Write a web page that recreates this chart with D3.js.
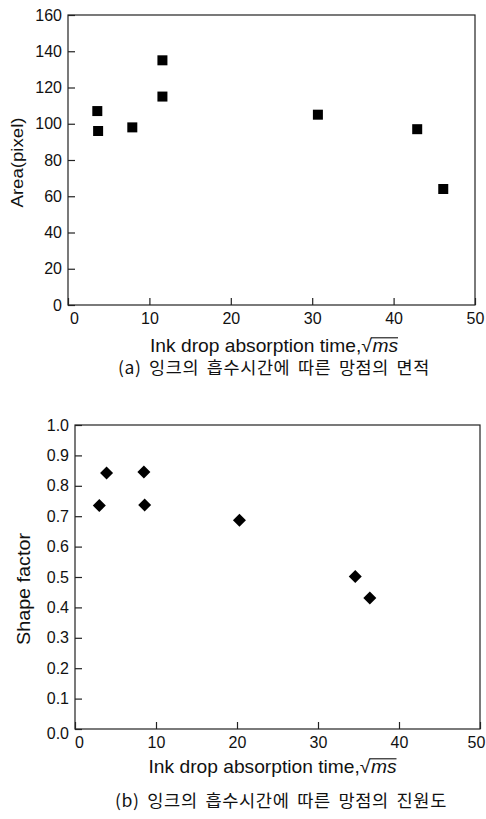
<!DOCTYPE html>
<html><head><meta charset="utf-8">
<script src="https://cdn.jsdelivr.net/npm/d3@7"></script>
<style>
body{margin:0;background:#fff;}
svg{display:block;}
text{font-family:"Liberation Sans",Arial,sans-serif;fill:#111;}
.kr{font-family:"Noto Sans CJK KR","Liberation Sans",sans-serif;}
</style></head><body>
<svg id="c" width="486" height="819"></svg>
<script>
// Chart (a): area vs absorption time
const areaTime = [3.6, 3.7, 7.9, 11.6, 11.6, 30.7, 42.9, 46.1];
const areaValue = [107, 96, 98, 135, 115, 105, 97, 64];
const areaYTicks = [0, 20, 40, 60, 80, 100, 120, 140, 160];
// Chart (b): shape factor vs absorption time
const shapeTime = [3.0, 3.9, 8.5, 8.6, 20.3, 34.6, 36.4];
const shapeValue = [0.735, 0.842, 0.845, 0.737, 0.687, 0.502, 0.431];
const shapeYTicks = [0, 0.1, 0.2, 0.3, 0.4, 0.5, 0.6, 0.7, 0.8, 0.9, 1.0];
const xTicks = [0, 10, 20, 30, 40, 50];

const svg = d3.select("#c");

function panel(cfg){
  const g = svg.append("g");
  const x = d3.scaleLinear().domain([0,50]).range([cfg.x0, cfg.x1]);
  const y = d3.scaleLinear().domain(cfg.ydom).range([cfg.y0, cfg.y1]);
  g.append("rect").attr("x",cfg.x0).attr("y",cfg.y1).attr("width",cfg.x1-cfg.x0).attr("height",cfg.y0-cfg.y1)
    .attr("fill","none").attr("stroke","#222").attr("stroke-width",1.2);
  const ax = g.append("g").attr("transform",`translate(0,${cfg.y0})`)
    .call(d3.axisBottom(x).tickValues(xTicks).tickFormat(d3.format("d")).tickSizeInner(-7).tickSizeOuter(0).tickPadding(cfg.xpad));
  const ay = g.append("g").attr("transform",`translate(${cfg.x0},0)`)
    .call(d3.axisLeft(y).tickValues(cfg.yticks).tickFormat(cfg.yfmt).tickSizeInner(-7).tickSizeOuter(0).tickPadding(6));
  [ax,ay].forEach(a=>{
    a.select(".domain").remove();
    a.selectAll(".tick line").attr("stroke","#222").attr("stroke-width",1.2);
    a.selectAll(".tick text").style("font-family","'Liberation Sans',Arial,sans-serif").style("font-size","16px").attr("fill","#111");
  });
  ax.selectAll(".tick text").filter(d=>d===0).attr("dx",cfg.x0shift);
  ax.selectAll(".tick text").filter(d=>d===50).attr("dx",cfg.x50shift);
  ay.selectAll(".tick text").filter(d=>d===0).attr("y",cfg.y0shift);
  // y title
  g.append("text").attr("transform",`translate(${cfg.ytx},${cfg.yty}) rotate(-90)`)
    .attr("text-anchor","middle").style("font-size",cfg.ytfs+"px")
    .attr("textLength",cfg.ytlen).attr("lengthAdjust","spacingAndGlyphs").text(cfg.ytitle);
  // x title: "Ink drop absorption time,√ms" with italic, overlined ms
  const tg = g.append("g");
  const t1 = tg.append("text").style("font-size","18px").text("Ink drop absorption time,√");
  const t2 = tg.append("text").style("font-size","18px").style("font-style","italic").text("ms");
  const w1 = t1.node().getComputedTextLength(), w2 = t2.node().getComputedTextLength();
  const tot = w1 + w2 + 0.5;
  const sx = 248 / tot;
  tg.attr("transform",`translate(${cfg.xtx},${cfg.xty}) scale(${sx},1)`);
  t1.attr("x",-tot/2);
  t2.attr("x",-tot/2 + w1 + 0.5);
  tg.append("line").attr("x1",-tot/2 + w1 - 1).attr("x2",tot/2).attr("y1",-14.2).attr("y2",-14.2)
    .attr("stroke","#111").attr("stroke-width",1.1);
  // caption
  g.append("text").attr("class","kr").attr("x",cfg.capx).attr("y",cfg.capy).attr("text-anchor","middle")
    .style("font-size","17px").style("letter-spacing","0.6px").style("word-spacing","3px")
    .attr("textLength",cfg.caplen).attr("lengthAdjust","spacingAndGlyphs").text(cfg.caption);
  return {g,x,y};
}

const A = panel({x0:68,x1:475,y0:305,y1:15,ydom:[0,160],yticks:areaYTicks,yfmt:d3.format("d"),xpad:8,x0shift:6,x50shift:0,y0shift:0,
  ytitle:"Area(pixel)",ytx:23,yty:162.5,ytfs:17,ytlen:90,
  xtx:274,xty:352,capx:274,capy:374,caplen:312,caption:"(a) 잉크의 흡수시간에 따른 망점의 면적"});
A.g.selectAll("rect.pt").data(areaTime.map((t,i)=>[t,areaValue[i]])).join("rect").attr("class","pt")
  .attr("x",d=>A.x(d[0])-5).attr("y",d=>A.y(d[1])-5).attr("width",10).attr("height",10).attr("fill","#000");

const B = panel({x0:75,x1:480,y0:729,y1:425,ydom:[0,1],yticks:shapeYTicks,yfmt:d3.format(".1f"),xpad:8,x0shift:4,x50shift:-4,y0shift:4,
  ytitle:"Shape factor",ytx:30,yty:589,ytfs:18,ytlen:112,
  xtx:272.5,xty:773,capx:281,capy:807,caplen:332,caption:"(b) 잉크의 흡수시간에 따른 망점의 진원도"});
B.g.selectAll("path.pt").data(shapeTime.map((t,i)=>[t,shapeValue[i]])).join("path").attr("class","pt")
  .attr("transform",d=>`translate(${B.x(d[0])},${B.y(d[1])})`)
  .attr("d","M0,-6.5L6.5,0L0,6.5L-6.5,0Z").attr("fill","#000");
</script>
</body></html>
